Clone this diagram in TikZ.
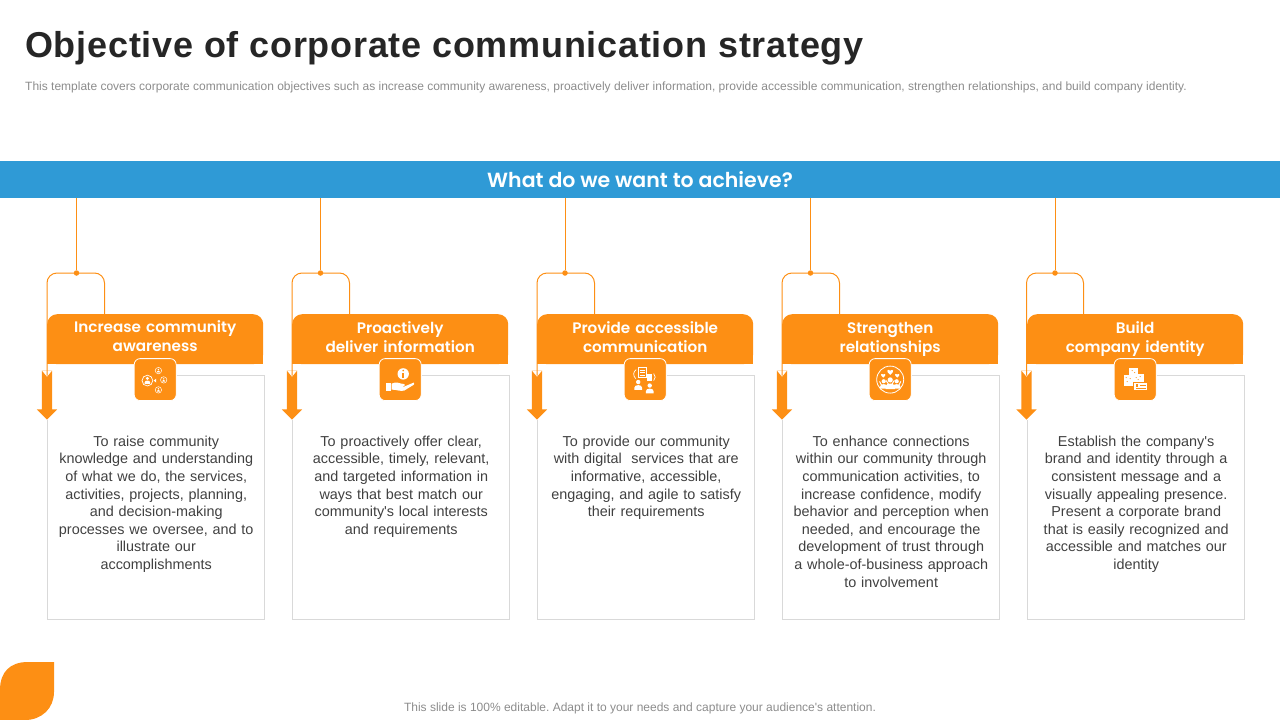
\documentclass[tikz,border=0pt]{standalone}
\usepackage{fontspec}
\setmainfont{Liberation Sans}
\newfontfamily\plainfont{Liberation Sans}
\newfontfamily\headfont{Poppins SemiBold}
\usepackage{tikz}
\usetikzlibrary{%
   shapes.arrows,%
   matrix,%
   positioning,%
   backgrounds%
}
\definecolor{leaforange}{HTML}{FD8F14}
\definecolor{bandblue}{HTML}{2F9AD6}
\definecolor{boxgrey}{HTML}{D9D9D9}
\definecolor{inktext}{HTML}{404040}
\definecolor{notegrey}{HTML}{8C8C8C}
\definecolor{titleink}{HTML}{262626}

\begin{document}
\begin{tikzpicture}[x=1pt,y=-1pt,
	heading/.style={
	rectangle,
	minimum width=216pt,minimum height=50pt,
	inner sep=0pt,outer sep=0pt,
	fill=leaforange,rounded corners=10pt,
	text=white,text width=210pt,align=center,
	text height=19pt,text depth=31pt,
	font=\headfont\fontsize{15.2}{19}\selectfont
	},bodybox/.style={
	rectangle,
	minimum width=217pt,
	inner sep=0pt,outer sep=0pt,
	text=inktext,text width=205pt,align=center,
	text height=71pt,text depth=173pt,
	font=\plainfont\fontsize{14.4}{17.6}\selectfont
	},boxline/.style={
	draw=boxgrey,line width=.8pt
	},iconbox/.style={
	rectangle,
	minimum size=42pt,inner sep=0pt,
	fill=leaforange,draw=white,line width=.8pt,rounded corners=6pt
	},dot/.style={
	circle,fill=leaforange,inner sep=0pt,minimum size=5.5pt
	},wire/.style={
	draw=leaforange,line width=1pt
	},downarrow/.style={
	single arrow,shape border rotate=270,
	minimum height=49pt,
	single arrow head extend=5pt,inner sep=5pt,outer sep=0pt,
	fill=leaforange,
	path picture={\fill[white] ([xshift=-5pt]path picture bounding box.north) -- ([xshift=5pt]path picture bounding box.north) -- ([yshift=-6pt]path picture bounding box.north) -- cycle;}
	},person/.pic={
	\fill[white] (0,-4.2) circle (2.6);
	\fill[white] (-4.6,5) -- (-4.6,2.5) .. controls (-4.6,-1.6) and (4.6,-1.6) .. (4.6,2.5) -- (4.6,5) -- cycle;
	},heart/.pic={
	\fill[white] (0,3) .. controls (-5,-.5) and (-3,-4) .. (0,-1.5) .. controls (3,-4) and (5,-.5) .. (0,3) -- cycle;
	}
]
\useasboundingbox (0,0) rectangle (1280,720);

\node (title) [anchor=base west,text=titleink,inner sep=0pt,font=\bfseries\fontsize{36}{36}\selectfont\addfontfeatures{LetterSpace=2.1}] at (25,57) {Objective of corporate communication strategy};
\node (subtitle) [anchor=base west,text=notegrey,inner sep=0pt,font=\fontsize{12}{12}\selectfont] at (25,90) {This template covers corporate communication objectives such as increase community awareness, proactively deliver information, provide accessible communication, strengthen relationships, and build company identity.};
\node (band) [rectangle,fill=bandblue,minimum width=1280pt,minimum height=37pt,inner sep=0pt,outer sep=0pt,text=white,font=\headfont\fontsize{20.5}{20}\selectfont] at (640,179.5) {What do we want to achieve?};

\matrix (grid) [anchor=north west,inner sep=0pt,row sep=11pt,column sep=27.5pt] at (47,314) {
% First row
\node (heading1) [heading,xshift=-.5pt,text height=18pt,text depth=32pt] {Increase community\\awareness}; &
\node (heading2) [heading,xshift=-.5pt] {Proactively\\deliver information}; &
\node (heading3) [heading,xshift=-.5pt] {Provide accessible\\communication}; &
\node (heading4) [heading,xshift=-.5pt] {Strengthen\\relationships}; &
\node (heading5) [heading,xshift=-.5pt] {Build\\company identity}; \\
% Second row
\node (body1) [bodybox] {To raise community\\knowledge and understanding\\of what we do, the services,\\activities, projects, planning,\\and decision-making\\processes we oversee, and to\\illustrate our\\accomplishments}; &
\node (body2) [bodybox] {To proactively offer clear,\\accessible, timely, relevant,\\and targeted information in\\ways that best match our\\community's local interests\\and requirements}; &
\node (body3) [bodybox] {To provide our community\\with digital~ services that are\\informative, accessible,\\engaging, and agile to satisfy\\their requirements}; &
\node (body4) [bodybox] {To enhance connections\\within our community through\\communication activities, to\\increase confidence, modify\\behavior and perception when\\needed, and encourage the\\development of trust through\\a whole-of-business approach\\to involvement}; &
\node (body5) [bodybox] {Establish the company's\\brand and identity through a\\consistent message and a\\visually appealing presence.\\Present a corporate brand\\that is easily recognized and\\accessible and matches our\\identity}; \\
};

% square off the lower corners of the headings
\begin{scope}[on background layer]
\fill[leaforange] ([yshift=15pt]heading1.south west) rectangle (heading1.south east);
\fill[leaforange] ([yshift=15pt]heading2.south west) rectangle (heading2.south east);
\fill[leaforange] ([yshift=15pt]heading3.south west) rectangle (heading3.south east);
\fill[leaforange] ([yshift=15pt]heading4.south west) rectangle (heading4.south east);
\fill[leaforange] ([yshift=15pt]heading5.south west) rectangle (heading5.south east);
\end{scope}

\node (icon1) [iconbox,below=-6pt of heading1] {};
\node (icon2) [iconbox,below=-6pt of heading2] {};
\node (icon3) [iconbox,below=-6pt of heading3] {};
\node (icon4) [iconbox,below=-6pt of heading4] {};
\node (icon5) [iconbox,below=-6pt of heading5] {};

\node (dot1) [dot] at (76.5,273) {};
\node (dot2) [dot] at (320.5,273) {};
\node (dot3) [dot] at (565,273) {};
\node (dot4) [dot] at (810.5,273) {};
\node (dot5) [dot] at (1055,273) {};
\node (arrow1) [downarrow] at (47,392.5) {};
\node (arrow2) [downarrow] at (292,392.5) {};
\node (arrow3) [downarrow] at (537,392.5) {};
\node (arrow4) [downarrow] at (782,392.5) {};
\node (arrow5) [downarrow] at (1026.5,392.5) {};
\coordinate (foot1) at (104.5,314);
\coordinate (foot2) at (349.5,314);
\coordinate (foot3) at (594.5,314);
\coordinate (foot4) at (839.5,314);
\coordinate (foot5) at (1083.5,314);

% open outlines of the text boxes
\draw[boxline] (icon1.east |- body1.north) -- (body1.north east) -- (body1.south east) -- (body1.south west) -- (body1.west |- arrow1.south);
\draw[boxline] (icon2.east |- body2.north) -- (body2.north east) -- (body2.south east) -- (body2.south west) -- (body2.west |- arrow2.south);
\draw[boxline] (icon3.east |- body3.north) -- (body3.north east) -- (body3.south east) -- (body3.south west) -- (body3.west |- arrow3.south);
\draw[boxline] (icon4.east |- body4.north) -- (body4.north east) -- (body4.south east) -- (body4.south west) -- (body4.west |- arrow4.south);
\draw[boxline] (icon5.east |- body5.north) -- (body5.north east) -- (body5.south east) -- (body5.south west) -- (body5.west |- arrow5.south);

\path	(band.south -| dot1) edge[wire] (dot1)
	(band.south -| dot2) edge[wire] (dot2)
	(band.south -| dot3) edge[wire] (dot3)
	(band.south -| dot4) edge[wire] (dot4)
	(band.south -| dot5) edge[wire] (dot5);
\draw[wire,rounded corners=10pt,shorten <=-5pt] (arrow1.north) |- (dot1.center) -| (foot1);
\draw[wire,rounded corners=10pt,shorten <=-5pt] (arrow2.north) |- (dot2.center) -| (foot2);
\draw[wire,rounded corners=10pt,shorten <=-5pt] (arrow3.north) |- (dot3.center) -| (foot3);
\draw[wire,rounded corners=10pt,shorten <=-5pt] (arrow4.north) |- (dot4.center) -| (foot4);
\draw[wire,rounded corners=10pt,shorten <=-5pt] (arrow5.north) |- (dot5.center) -| (foot5);

% icon 1: speaker and audience
\begin{scope}[shift={(icon1.center)}]
\draw[white,line width=.7pt] (-7.8,1) circle (5.4);
\pic[scale=.6] at (-7.8,1.3) {person};
\fill[white] (-1.5,1) -- (1,-1) -- (1,3) -- cycle;
\draw[white,line width=.5pt] (3.2,-9) circle (3.2);
\draw[white,line width=.5pt] (8.5,.3) circle (3.2);
\draw[white,line width=.5pt] (3.2,10.3) circle (3.2);
\pic[scale=.3] at (3.2,-8.8) {person};
\pic[scale=.3] at (8.5,.5) {person};
\pic[scale=.3] at (3.2,10.5) {person};
\end{scope}
% icon 2: hand and info mark
\begin{scope}[shift={(icon2.center)}]
\fill[white] (3,-5.7) circle (5.7);
\fill[leaforange] (3,-9) circle (.9);
\fill[leaforange] (2.2,-7) rectangle (3.8,-2);
\fill[white] (-14,3) rectangle (-9.5,11);
\fill[white] (-8.5,4) .. controls (-4,1.5) and (-1,4) .. (4,4.5) .. controls (5.5,5) and (5,6.5) .. (3,6.5) -- (-1,6.5) -- (4,7) -- (13.5,3) .. controls (14.5,4) and (14,5) .. (13,5.5) -- (4,11) .. controls (0,12) and (-4,10) .. (-8.5,10) -- cycle;
\end{scope}
% icon 3: two people talking
\begin{scope}[shift={(icon3.center)}]
\pic[scale=.85] at (-7,6) {person};
\pic[scale=.85] at (4.5,9.5) {person};
\draw[white,line width=.7pt] (-7,-12) rectangle (1,-2.5);
\fill[white] (-5.5,-9.5) rectangle (-.5,-8.7);
\fill[white] (-5.5,-7.2) rectangle (-.5,-6.4);
\fill[white] (-5.5,-4.9) rectangle (-.5,-4.1);
\fill[white] (1.5,-6) rectangle (7,1);
\draw[white,line width=.7pt] (-9.5,-1) .. controls (-12.5,-4) and (-12,-8) .. (-9,-10);
\draw[white,line width=.7pt] (8.5,-6) .. controls (10.5,-4) and (10.5,-1) .. (8.5,1);
\end{scope}
% icon 4: hearts and people in a ring
\begin{scope}[shift={(icon4.center)}]
\draw[white,line width=.8pt] (0,0) circle (13.5);
\pic[scale=.95] at (0,-7.5) {heart};
\pic[scale=.7] at (-7,-4) {heart};
\pic[scale=.7] at (7,-4) {heart};
\pic[scale=1] at (0,4.5) {person};
\pic[scale=.8] at (-6.5,5) {person};
\pic[scale=.8] at (6.5,5) {person};
\draw[white,line width=1pt,line cap=round] (-4,1) -- (-1.5,5) (4,1) -- (1.5,5) (-10.5,2) -- (-8.5,6) (10.5,2) -- (8.5,6);
\end{scope}
% icon 5: blocks and card
\begin{scope}[shift={(icon5.center)}]
\fill[white] (-6.5,-12) rectangle (2.5,-5);
\fill[white] (-11.5,-5) rectangle (-2,6);
\fill[white] (-2.5,-6) rectangle (8.5,5);
\fill[leaforange] (-3,-9) circle (.6);
\fill[leaforange] (-.5,-7) circle (.6);
\fill[leaforange] (-9,-2) circle (.6);
\fill[leaforange] (-5,-1) circle (.6);
\fill[leaforange] (-8,2) circle (.6);
\fill[leaforange] (1,-2) circle (.6);
\fill[leaforange] (5,-3) circle (.6);
\fill[leaforange] (3,0) circle (.6);
\fill[white] (-1.5,3) rectangle (12.5,11);
\draw[leaforange,line width=.6pt] (-1.5,3) rectangle (12.5,11);
\fill[leaforange] (.5,4.8) rectangle (3,7);
\fill[leaforange] (4.5,5) rectangle (11,5.8);
\fill[leaforange] (.5,8.3) rectangle (11,9.1);
\end{scope}

% corner leaf
\fill[leaforange] (54,662) -- (28,662) .. controls (10,662) and (0,672) .. (0,690) -- (0,720) -- (25,720) .. controls (42,720) and (54,708) .. (54,692) -- cycle;

\node (footer) [anchor=base,text=notegrey,inner sep=0pt,font=\plainfont\frenchspacing\fontsize{12}{12}\selectfont] at (640,711) {This slide is 100\% editable. Adapt it to your needs and capture your audience's attention.};

\end{tikzpicture}
\end{document}
